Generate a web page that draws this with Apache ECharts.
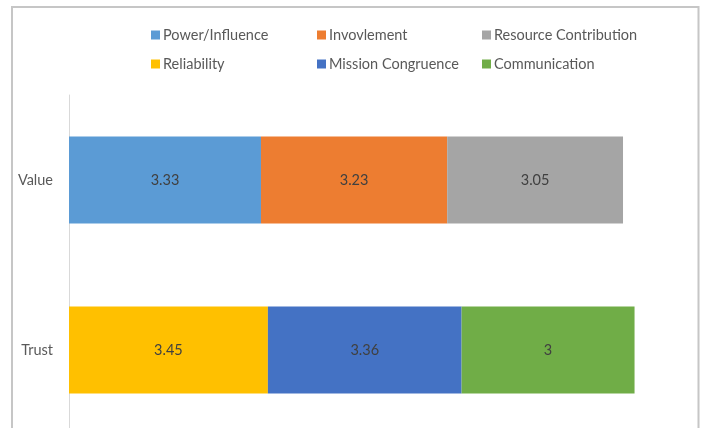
<!DOCTYPE html>
<html lang="en">
<head>
    <meta charset="UTF-8">
    <title>Value and Trust</title>
    <script src="https://cdn.jsdelivr.net/npm/echarts@6/dist/echarts.min.js"></script>
    <style>
        html, body { margin: 0; padding: 0; background: #fff; overflow: hidden; }
    </style>
</head>
<body>
    <!-- the original is cut off at the bottom, so the chart runs a bit past the window -->
    <div id="chart" style="width: 704px; height: 440px;"></div>

    <script>
        // Data
        const categories = ['Value', 'Trust'];
        const seriesNames = ['Power/Influence', 'Invovlement', 'Resource Contribution', 'Reliability', 'Mission Congruence', 'Communication'];
        const valueScores = [3.33, 3.23, 3.05];
        const trustScores = [3.45, 3.36, 3];
        const colors = ['#5B9BD5', '#ED7D31', '#A5A5A5', '#FFC000', '#4472C4', '#70AD47'];

        const font = 'Lato, "Noto Sans", sans-serif';

        // first three series belong to Value, last three to Trust
        const series = seriesNames.map((name, i) => ({
            name: name,
            type: 'bar',
            stack: 'total',
            barWidth: 87,
            itemStyle: { color: colors[i] },
            label: {
                show: true,
                position: 'inside',
                color: '#404040',
                fontSize: 14.5,
                fontFamily: font
            },
            data: i < 3 ? [valueScores[i], '-'] : ['-', trustScores[i - 3]]
        }));

        // one legend per item so the columns line up like the original
        const legendCols = [151, 317, 482];
        const legendRows = [27.5, 56.5];
        const legends = seriesNames.map((name, i) => ({
            data: [name],
            left: legendCols[i % 3],
            top: legendRows[Math.floor(i / 3)],
            icon: 'rect',
            itemWidth: 9,
            itemHeight: 9,
            padding: 0,
            selectedMode: false,
            textStyle: { color: '#595959', fontSize: 14.5, fontFamily: font, padding: [0, 0, 0, -2] }
        }));

        const chart = echarts.init(document.getElementById('chart'));
        chart.setOption({
            animation: false,
            legend: legends,
            grid: { left: 69, top: 95, width: 576.5, height: 340, containLabel: false },
            xAxis: {
                type: 'value',
                min: 0,
                max: 10,
                show: false
            },
            yAxis: {
                type: 'category',
                data: categories,
                inverse: true,
                axisLine: { show: true, lineStyle: { color: '#D9D9D9', width: 1 } },
                axisTick: { show: false },
                axisLabel: { color: '#595959', fontSize: 14.5, fontFamily: font, margin: 16 }
            },
            graphic: [{
                type: 'rect',
                shape: { x: 12, y: 7, width: 686.5, height: 460 },
                style: { fill: 'none', stroke: '#C6C6C6', lineWidth: 2 },
                silent: true
            }],
            series: series
        });
    </script>
</body>
</html>
